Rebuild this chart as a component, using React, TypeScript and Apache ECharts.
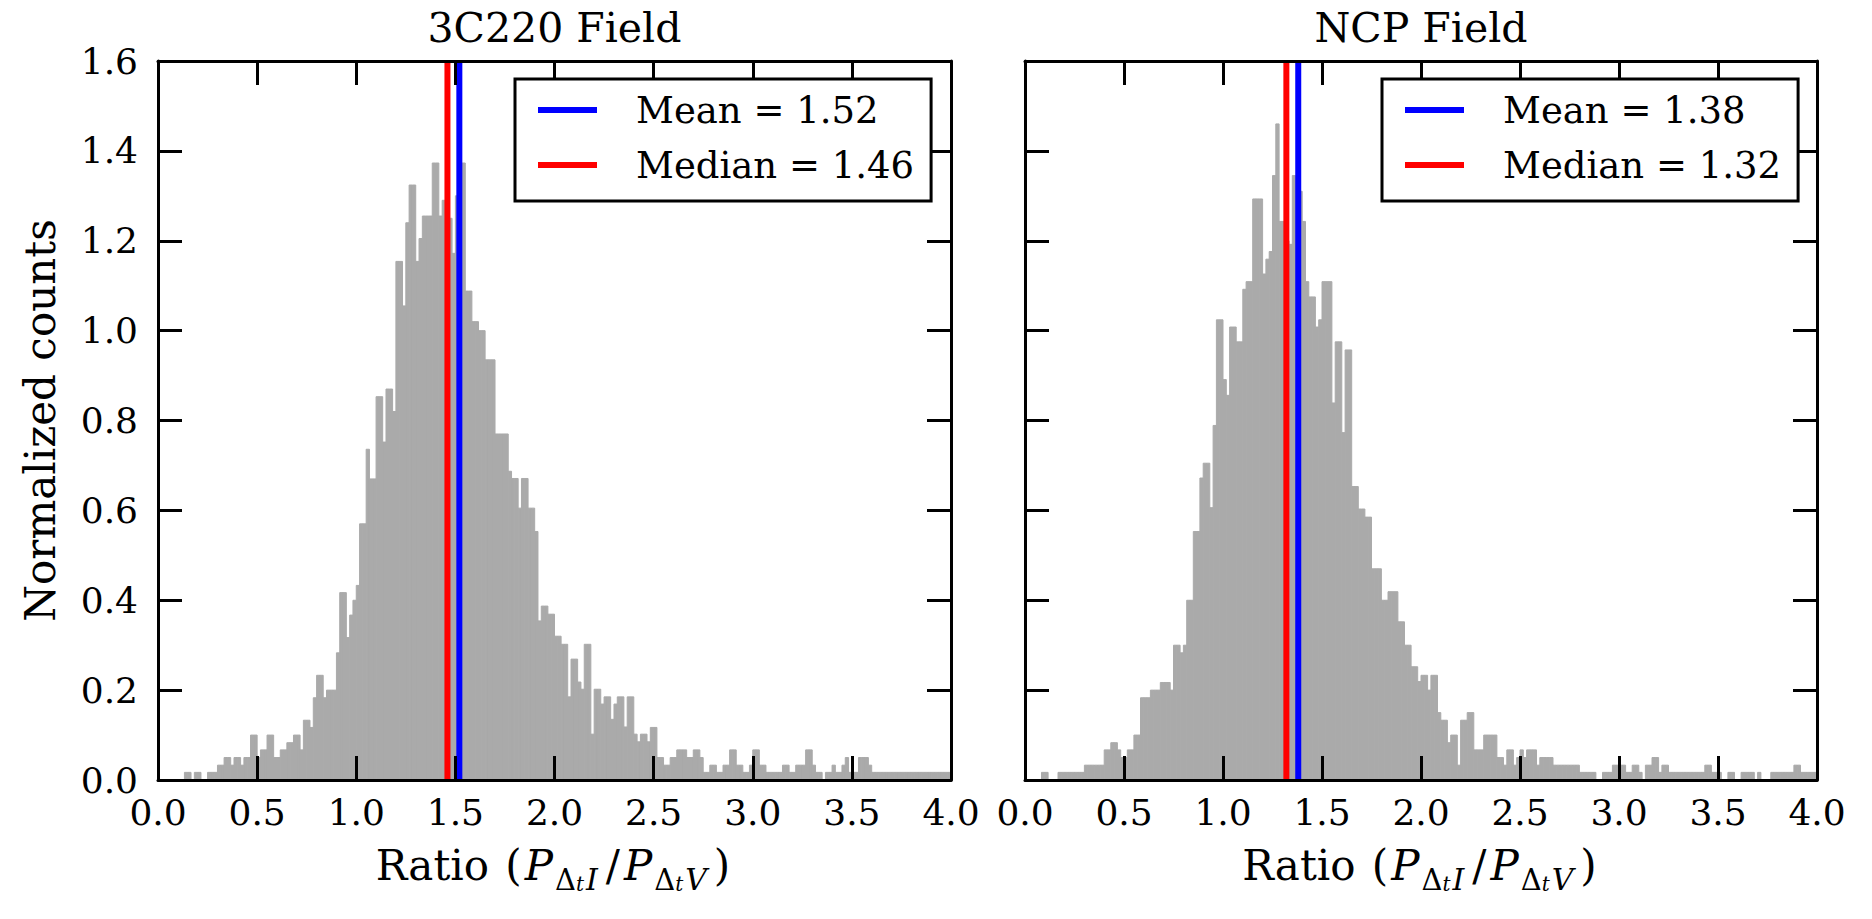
import React, { useEffect, useRef } from "react";
import * as echarts from "echarts";

// ---------- data ----------
const BIN_START = 0;
const BIN_WIDTH = 1 / 60;

// normalized counts per bin, 3C220 field (bins of width 1/60 starting at 0)
const FIELD_3C220 = [
  0, 0, 0, 0, 0, 0, 0, 0, 0.017, 0.017,
  0, 0.017, 0.017, 0, 0, 0.017, 0.017, 0.017, 0.033, 0.033,
  0.05, 0.05, 0.033, 0.05, 0.05, 0.033, 0.05, 0.05, 0.1, 0.1,
  0.05, 0.067, 0.067, 0.1, 0.1, 0.05, 0.05, 0.067, 0.067, 0.083,
  0.083, 0.1, 0.1, 0.067, 0.133, 0.133, 0.117, 0.183, 0.233, 0.233,
  0.183, 0.2, 0.2, 0.2, 0.283, 0.417, 0.417, 0.317, 0.367, 0.4,
  0.433, 0.57, 0.57, 0.736, 0.67, 0.67, 0.853, 0.853, 0.752, 0.87,
  0.87, 0.82, 1.154, 1.154, 1.055, 1.24, 1.324, 1.324, 1.154, 1.205,
  1.255, 1.255, 1.255, 1.373, 1.373, 1.255, 1.29, 1.2, 1.25, 1.172,
  1.3, 1.2, 1.373, 1.088, 1.088, 1.02, 1.02, 1.0, 1.0, 0.935,
  0.935, 0.935, 0.77, 0.77, 0.77, 0.77, 0.687, 0.671, 0.671, 0.605,
  0.671, 0.671, 0.605, 0.605, 0.553, 0.354, 0.387, 0.387, 0.369, 0.369,
  0.32, 0.32, 0.302, 0.302, 0.185, 0.269, 0.269, 0.218, 0.202, 0.302,
  0.302, 0.102, 0.202, 0.202, 0.169, 0.185, 0.185, 0.135, 0.169, 0.185,
  0.185, 0.118, 0.185, 0.185, 0.102, 0.085, 0.102, 0.102, 0.085, 0.117,
  0.117, 0.05, 0.05, 0.033, 0.033, 0.05, 0.05, 0.067, 0.067, 0.067,
  0.05, 0.05, 0.067, 0.067, 0.05, 0.017, 0.017, 0.033, 0.033, 0.017,
  0.017, 0.033, 0.033, 0.067, 0.067, 0.033, 0.033, 0.017, 0.017, 0.033,
  0.067, 0.067, 0.033, 0.033, 0.017, 0.017, 0.017, 0.017, 0.017, 0.033,
  0.033, 0.017, 0.017, 0.033, 0.033, 0.033, 0.067, 0.067, 0.033, 0.017,
  0.017, 0, 0.017, 0.017, 0.033, 0.017, 0.017, 0.033, 0.05, 0.017,
  0.017, 0.017, 0.05, 0.05, 0.05, 0.033, 0.017, 0.017, 0.017, 0.017,
  0.017, 0.017, 0.017, 0.017, 0.017, 0.017, 0.017, 0.017, 0.017, 0.017,
  0.017, 0.017, 0.017, 0.017, 0.017, 0.017, 0.017, 0.017, 0.017, 0.017,
];

// normalized counts per bin, NCP field
const FIELD_NCP = [
  0, 0, 0, 0, 0, 0.017, 0.017, 0, 0, 0,
  0.017, 0.017, 0.017, 0.017, 0.017, 0.017, 0.017, 0.017, 0.033, 0.033,
  0.033, 0.033, 0.033, 0.033, 0.067, 0.067, 0.083, 0.083, 0.067, 0.05,
  0.05, 0.067, 0.067, 0.1, 0.1, 0.183, 0.183, 0.183, 0.2, 0.2,
  0.2, 0.217, 0.217, 0.217, 0.2, 0.3, 0.3, 0.283, 0.3, 0.4,
  0.4, 0.553, 0.553, 0.672, 0.705, 0.705, 0.606, 0.789, 1.024, 1.024,
  0.891, 0.856, 1.008, 1.008, 0.975, 0.975, 1.092, 1.109, 1.109, 1.293,
  1.293, 1.293, 1.126, 1.159, 1.176, 1.345, 1.46, 1.243, 1.243, 1.2,
  1.192, 1.345, 1.3, 1.31, 1.243, 1.109, 1.075, 1.075, 1.008, 1.024,
  1.109, 1.109, 1.109, 0.839, 0.975, 0.975, 0.773, 0.957, 0.957, 0.653,
  0.653, 0.603, 0.603, 0.585, 0.585, 0.47, 0.47, 0.47, 0.4, 0.4,
  0.419, 0.419, 0.419, 0.352, 0.352, 0.3, 0.3, 0.252, 0.252, 0.219,
  0.233, 0.233, 0.2, 0.233, 0.233, 0.15, 0.133, 0.133, 0.083, 0.1,
  0.1, 0.033, 0.133, 0.133, 0.15, 0.15, 0.067, 0.067, 0.067, 0.1,
  0.1, 0.1, 0.1, 0.05, 0.05, 0.033, 0.067, 0.067, 0.033, 0.05,
  0.067, 0.05, 0.067, 0.067, 0.067, 0.033, 0.05, 0.05, 0.05, 0.05,
  0.033, 0.033, 0.033, 0.033, 0.033, 0.033, 0.033, 0.033, 0.017, 0.017,
  0.017, 0.017, 0.017, 0, 0, 0.017, 0.017, 0.017, 0.033, 0.033,
  0.033, 0.033, 0.017, 0.017, 0.033, 0.033, 0.017, 0, 0.033, 0.033,
  0.05, 0.05, 0.017, 0.033, 0.033, 0.017, 0.017, 0.017, 0.017, 0.017,
  0.017, 0.017, 0.017, 0.017, 0.017, 0.017, 0.033, 0.033, 0.017, 0.017,
  0.017, 0, 0, 0.017, 0.017, 0, 0, 0.017, 0.017, 0.017,
  0.017, 0, 0.017, 0, 0, 0, 0.017, 0.017, 0.017, 0.017,
  0.017, 0.017, 0.017, 0.033, 0.033, 0.017, 0.017, 0.017, 0.017, 0.017,
];

const PANEL_TITLES = ["3C220 Field", "NCP Field"];
const MEANS = [1.52, 1.38];
const MEDIANS = [1.46, 1.32];
const X_RANGE = [0, 4];
const X_INTERVAL = 0.5;
const Y_RANGE = [0, 1.6];
const Y_INTERVAL = 0.2;
const Y_LABEL = "Normalized counts";

// ---------- style ----------
const SERIF = "'DejaVu Serif', serif";
const BAR_COLOR = "#aaaaaa";
const MEAN_COLOR = "#0000ff";
const MEDIAN_COLOR = "#ff0000";

const GRIDS = [
  { left: 158, top: 61, width: 793, height: 719 },
  { left: 1025, top: 61, width: 792, height: 719 },
];

const X_NAME =
  "{m|Ratio }{p|(}{i|P}{s|Δ}{ss|t}{si|I}{sl|/}{i|P}{s|Δ}{ss|t}{si|V}{p|)}";

const X_NAME_RICH = {
  m: { fontSize: 42, fontFamily: SERIF, color: "#000", lineHeight: 58, verticalAlign: "middle" },
  p: { fontSize: 42, fontFamily: SERIF, color: "#000", lineHeight: 58, verticalAlign: "middle", padding: [0, 3, 0, 3] },
  sl: { fontSize: 42, fontFamily: SERIF, color: "#000", lineHeight: 58, verticalAlign: "middle", padding: [0, 4, 0, 4] },
  i: { fontSize: 42, fontFamily: SERIF, fontStyle: "italic", color: "#000", lineHeight: 58, verticalAlign: "middle", padding: [0, 2, 0, 0] },
  s: { fontSize: 29, fontFamily: SERIF, color: "#000", lineHeight: 33, verticalAlign: "bottom" },
  ss: { fontSize: 20, fontFamily: SERIF, fontStyle: "italic", color: "#000", lineHeight: 15, verticalAlign: "bottom", padding: [0, 1, 0, 0] },
  si: { fontSize: 30, fontFamily: SERIF, fontStyle: "italic", color: "#000", lineHeight: 33, verticalAlign: "bottom", padding: [0, 4, 0, 1] },
};

function histData(values: number[]) {
  return values
    .map((h, i) => [BIN_START + i * BIN_WIDTH, BIN_START + (i + 1) * BIN_WIDTH, h])
    .filter((d) => d[2] > 0);
}

const fmt = (v: number) => v.toFixed(1);

function frameAxis(base: any, showLabel: boolean) {
  return {
    ...base,
    z: 10,
    axisLine: { show: true, onZero: false, lineStyle: { color: "#000", width: 3 } },
    axisTick: { show: true, inside: true, length: 24, lineStyle: { color: "#000", width: 3 } },
    splitLine: { show: false },
    axisLabel: showLabel
      ? { show: true, color: "#000", fontSize: 36, fontFamily: SERIF, formatter: fmt }
      : { show: false },
  };
}

function buildOption() {
  const xAxis: any[] = [];
  const yAxis: any[] = [];
  const series: any[] = [];
  const legend: any[] = [];
  const graphic: any[] = [];
  const datasets = [FIELD_3C220, FIELD_NCP];

  GRIDS.forEach((g, gi) => {
    const xBase = { type: "value", gridIndex: gi, min: X_RANGE[0], max: X_RANGE[1], interval: X_INTERVAL };
    const yBase = { type: "value", gridIndex: gi, min: Y_RANGE[0], max: Y_RANGE[1], interval: Y_INTERVAL };

    const xb: any = frameAxis({ ...xBase, position: "bottom" }, true);
    xb.axisLabel.margin = 14;
    xb.name = X_NAME;
    xb.nameLocation = "middle";
    xb.nameGap = 56;
    xb.nameTextStyle = { rich: X_NAME_RICH, color: "#000" };
    xAxis.push(xb);
    xAxis.push(frameAxis({ ...xBase, position: "top" }, false));

    const yl: any = frameAxis({ ...yBase, position: "left" }, gi === 0);
    if (gi === 0) {
      yl.axisLabel.margin = 20;
      yl.name = Y_LABEL;
      yl.nameLocation = "middle";
      yl.nameGap = 97;
      yl.nameTextStyle = { fontSize: 42, fontFamily: SERIF, color: "#000" };
    }
    yAxis.push(yl);
    yAxis.push(frameAxis({ ...yBase, position: "right" }, false));

    const xi = gi * 2;
    const yi = gi * 2;

    series.push({
      type: "custom",
      name: "hist" + gi,
      xAxisIndex: xi,
      yAxisIndex: yi,
      clip: true,
      silent: true,
      z: 2,
      encode: { x: [0, 1], y: 2 },
      data: histData(datasets[gi]),
      renderItem: (params: any, api: any) => {
        const p0 = api.coord([api.value(0), api.value(2)]);
        const p1 = api.coord([api.value(1), 0]);
        return {
          type: "rect",
          shape: { x: p0[0], y: p0[1], width: p1[0] - p0[0], height: p1[1] - p0[1] },
          style: { fill: BAR_COLOR, stroke: BAR_COLOR, lineWidth: 1 },
        };
      },
    });

    const meanName = "Mean = " + MEANS[gi].toFixed(2);
    const medianName = "Median = " + MEDIANS[gi].toFixed(2);

    series.push({
      type: "line",
      name: meanName,
      xAxisIndex: xi,
      yAxisIndex: yi,
      data: [
        [MEANS[gi], Y_RANGE[0]],
        [MEANS[gi], Y_RANGE[1]],
      ],
      symbol: "none",
      silent: true,
      z: 5,
      color: MEAN_COLOR,
      itemStyle: { color: MEAN_COLOR },
      lineStyle: { color: MEAN_COLOR, width: 6 },
    });
    series.push({
      type: "line",
      name: medianName,
      xAxisIndex: xi,
      yAxisIndex: yi,
      data: [
        [MEDIANS[gi], Y_RANGE[0]],
        [MEDIANS[gi], Y_RANGE[1]],
      ],
      symbol: "none",
      silent: true,
      z: 5,
      color: MEDIAN_COLOR,
      itemStyle: { color: MEDIAN_COLOR },
      lineStyle: { color: MEDIAN_COLOR, width: 6 },
    });

    legend.push({
      data: [meanName, medianName],
      orient: "vertical",
      left: g.left + 357,
      top: 79,
      selectedMode: false,
      icon: "rect",
      itemWidth: 59,
      itemHeight: 6,
      itemGap: 15,
      padding: [11, 17, 16, 23],
      borderColor: "#000",
      borderWidth: 3,
      borderRadius: 0,
      backgroundColor: "#fff",
      z: 12,
      textStyle: {
        fontSize: 37,
        fontFamily: SERIF,
        color: "#000",
        lineHeight: 40,
        padding: [0, 0, 0, 34],
      },
    });

    graphic.push({
      type: "text",
      x: g.left + g.width / 2,
      y: 28,
      style: {
        text: PANEL_TITLES[gi],
        fill: "#000",
        font: "41px " + SERIF,
        textAlign: "center",
        textVerticalAlign: "middle",
        align: "center",
        verticalAlign: "middle",
      },
    });
  });

  return {
    animation: false,
    backgroundColor: "#ffffff",
    grid: GRIDS.map((g) => ({ ...g, containLabel: false, outerBoundsMode: "none" })),
    xAxis,
    yAxis,
    series,
    legend,
    graphic,
  };
}

export default function App() {
  const ref = useRef<HTMLDivElement>(null);
  useEffect(() => {
    if (!ref.current) return;
    const chart = echarts.init(ref.current, null, { renderer: "svg" });
    chart.setOption(buildOption() as any);
    return () => chart.dispose();
  }, []);
  return (
    <div
      ref={ref}
      style={{ position: "absolute", left: 0, top: 0, width: "1872px", height: "919px", background: "#fff" }}
    />
  );
}
